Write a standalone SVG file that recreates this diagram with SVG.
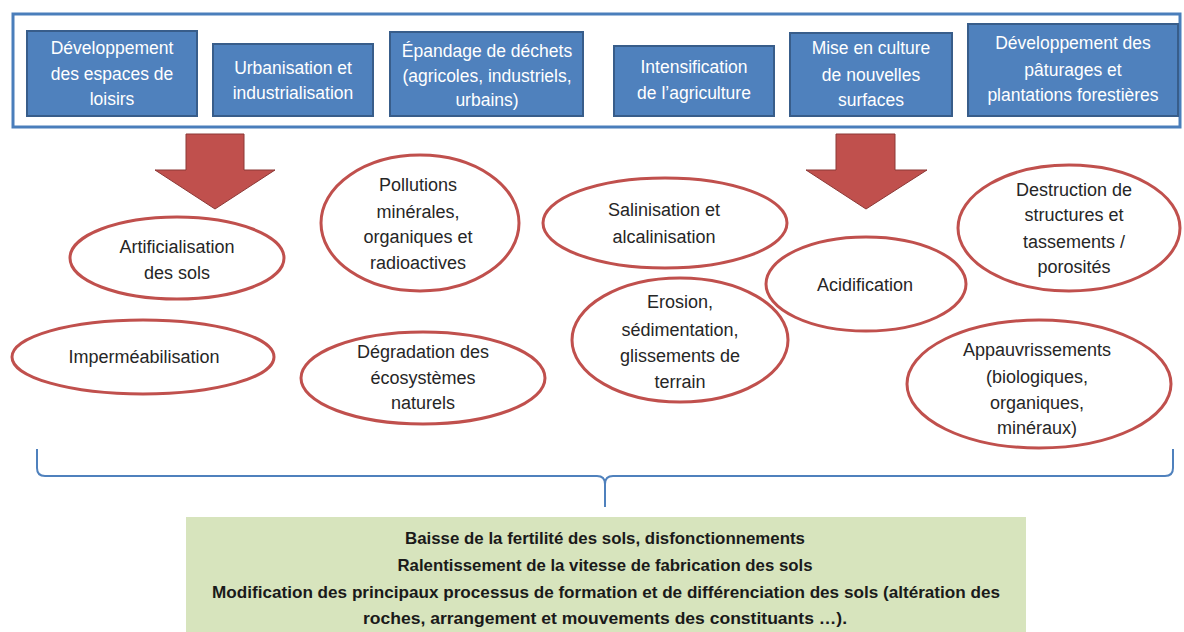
<svg xmlns="http://www.w3.org/2000/svg" width="1184" height="632" viewBox="0 0 1184 632">
<style>
.box{fill:#4f81bd;stroke:#385d8a;stroke-width:2}
.bt{font-family:"Liberation Sans",Arial,sans-serif;font-size:17.5px;fill:#ffffff;text-anchor:middle}
.ell{fill:#ffffff;stroke:#c0504d;stroke-width:3}
.et{font-family:"Liberation Sans",Arial,sans-serif;font-size:18px;fill:#262626;text-anchor:middle}
.arr{fill:#c0504d;stroke:#8c3836;stroke-width:1}
.gt{font-family:"Liberation Sans",Arial,sans-serif;font-size:16.5px;font-weight:bold;fill:#1a1a1a;text-anchor:middle}
</style>
<rect width="1184" height="632" fill="#ffffff"/>
<g id="frame"><rect x="13" y="14" width="1167" height="113" fill="none" stroke="#4a7ebb" stroke-width="3"/></g>
<g id="box1"><rect class="box" x="27" y="31" width="170" height="85"/>
<text class="bt" x="112" y="54">Développement</text><text class="bt" x="112" y="80">des espaces de</text><text class="bt" x="112" y="105">loisirs</text></g>
<g id="box2"><rect class="box" x="213" y="44" width="160" height="72"/>
<text class="bt" x="293" y="74">Urbanisation et</text><text class="bt" x="293" y="99">industrialisation</text></g>
<g id="box3"><rect class="box" x="390" y="32" width="193" height="84"/>
<text class="bt" x="487" y="57">Épandage de déchets</text><text class="bt" x="487" y="82">(agricoles, industriels,</text><text class="bt" x="487" y="106">urbains)</text></g>
<g id="box4"><rect class="box" x="614" y="46" width="160" height="70"/>
<text class="bt" x="694" y="73">Intensification</text><text class="bt" x="694" y="99">de l’agriculture</text></g>
<g id="box5"><rect class="box" x="790" y="33" width="162" height="83"/>
<text class="bt" x="871" y="54">Mise en culture</text><text class="bt" x="871" y="81">de nouvelles</text><text class="bt" x="871" y="106">surfaces</text></g>
<g id="box6"><rect class="box" x="968" y="24" width="210" height="92"/>
<text class="bt" x="1073" y="49">Développement des</text><text class="bt" x="1073" y="76">pâturages et</text><text class="bt" x="1073" y="101">plantations forestières</text></g>

<g id="connectors">
<polygon class="arr" points="186,134 244,134 244,170 275,170 215,209 155,170 186,170"/>
<polygon class="arr" points="836,134 895,134 895,170 927,170 866,209 806,170 836,170"/>
<path d="M37,449 L37,468 Q37,476 45,476 L597,476 Q605,476 605,484 L605,507 M605,484 Q605,476 613,476 L1165,476 Q1173,476 1173,468 L1173,449" fill="none" stroke="#4f81bd" stroke-width="2"/>
</g>

<g id="artificialisation"><ellipse class="ell" cx="177" cy="258" rx="107" ry="41"/>
<text class="et" x="177" y="253">Artificialisation</text><text class="et" x="177" y="279">des sols</text></g>
<g id="pollutions"><ellipse class="ell" cx="420" cy="223" rx="99" ry="68"/>
<text class="et" x="418" y="191">Pollutions</text><text class="et" x="418" y="218">minérales,</text><text class="et" x="418" y="243">organiques et</text><text class="et" x="418" y="269">radioactives</text></g>
<g id="impermeabilisation"><ellipse class="ell" cx="143" cy="357" rx="131" ry="37"/>
<text class="et" x="144" y="363">Imperméabilisation</text></g>
<g id="degradation"><ellipse class="ell" cx="423" cy="378" rx="122" ry="46"/>
<text class="et" x="423" y="358">Dégradation des</text><text class="et" x="423" y="384">écosystèmes</text><text class="et" x="423" y="409">naturels</text></g>
<g id="salinisation"><ellipse class="ell" cx="665" cy="223" rx="122" ry="45"/>
<text class="et" x="664" y="216">Salinisation  et</text><text class="et" x="664" y="243">alcalinisation</text></g>
<g id="erosion"><ellipse class="ell" cx="680" cy="340" rx="108" ry="62"/>
<text class="et" x="680" y="308">Erosion,</text><text class="et" x="680" y="336">sédimentation,</text><text class="et" x="680" y="362">glissements de</text><text class="et" x="680" y="388">terrain</text></g>
<g id="acidification"><ellipse class="ell" cx="866" cy="284" rx="100" ry="47"/>
<text class="et" x="865" y="291">Acidification</text></g>
<g id="destruction"><ellipse class="ell" cx="1069" cy="228" rx="111" ry="63"/>
<text class="et" x="1074" y="196">Destruction de</text><text class="et" x="1074" y="221">structures et</text><text class="et" x="1074" y="248">tassements /</text><text class="et" x="1074" y="273">porosités</text></g>
<g id="appauvrissements"><ellipse class="ell" cx="1039" cy="384" rx="132" ry="64"/>
<text class="et" x="1037" y="356">Appauvrissements</text><text class="et" x="1037" y="383">(biologiques,</text><text class="et" x="1037" y="409">organiques,</text><text class="et" x="1037" y="434">minéraux)</text></g>

<g id="consequences"><rect x="186" y="517" width="840" height="118" fill="#d7e4bd"/>
<text class="gt" x="605" y="544" textLength="400" lengthAdjust="spacingAndGlyphs">Baisse de la fertilité des sols, disfonctionnements</text>
<text class="gt" x="605" y="571" textLength="415" lengthAdjust="spacingAndGlyphs">Ralentissement de la vitesse de fabrication des sols</text>
<text class="gt" x="606" y="598" textLength="788" lengthAdjust="spacingAndGlyphs">Modification des principaux processus de formation et de différenciation des sols (altération des</text>
<text class="gt" x="605" y="624" textLength="484" lengthAdjust="spacingAndGlyphs">roches, arrangement et mouvements des constituants …).</text></g>
</svg>
